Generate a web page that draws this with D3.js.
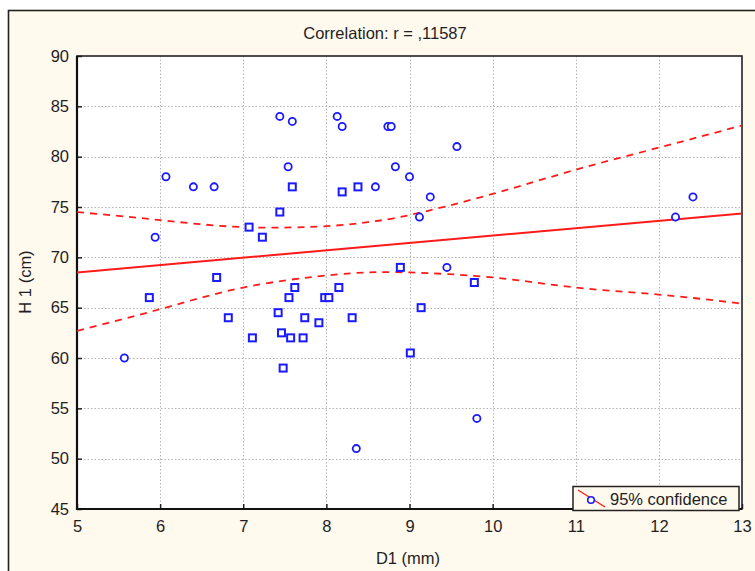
<!DOCTYPE html>
<html>
<head>
<meta charset="utf-8">
<script src="https://cdn.jsdelivr.net/npm/d3@7"></script>
<style>
  html, body { margin: 0; padding: 0; background: #ffffff; }
  svg { display: block; font-family: Arial, "Liberation Sans", sans-serif; }
</style>
</head>
<body>
<script>
// Scatter of H 1 against D1 with linear fit and 95% confidence band.
const d1Values = [
  5.57, 5.94, 6.07, 6.40, 6.65, 7.44, 7.59, 7.54, 8.13, 8.19, 8.36, 8.59,
  8.74, 8.78, 8.83, 9.00, 9.25, 9.12, 9.45, 9.81, 9.57, 12.20, 12.41,
  5.87, 6.68, 6.82, 7.07, 7.11, 7.23, 7.44, 7.42, 7.59, 7.46, 7.48, 7.55,
  7.57, 7.62, 7.74, 7.72, 7.91, 7.98, 8.03, 8.15, 8.19, 8.38, 8.31, 8.89,
  9.01, 9.14, 9.78
];
const h1Values = [
  60, 72, 78, 77, 77, 84, 83.5, 79, 84, 83, 51, 77,
  83, 83, 79, 78, 76, 74, 69, 54, 81, 74, 76,
  66, 68, 64, 73, 62, 72, 74.5, 64.5, 77, 62.5, 59, 66,
  62, 67, 64, 62, 63.5, 66, 66, 67, 76.5, 77, 64, 69,
  60.5, 65, 67.5
];
const markerShapes = [
  "o","o","o","o","o","o","o","o","o","o","o","o",
  "o","o","o","o","o","o","o","o","o","o","o",
  "s","s","s","s","s","s","s","s","s","s","s","s",
  "s","s","s","s","s","s","s","s","s","s","s","s",
  "s","s","s"
];

// Fitted line end points and confidence limits
const fitX = [5, 13];
const fitY = [68.5, 74.35];
const bandX = [5, 6, 7, 8, 8.5, 9, 10, 11, 12, 13];
const bandUpper = [74.5, 73.7, 73.0, 73.1, 73.5, 74.2, 76.3, 78.7, 80.9, 83.1];
const bandLower = [62.7, 64.85, 67.0, 68.2, 68.5, 68.5, 68.0, 67.0, 66.3, 65.4];

const xTicks = [5, 6, 7, 8, 9, 10, 11, 12, 13];
const yTicks = [45, 50, 55, 60, 65, 70, 75, 80, 85, 90];

const titleText = "Correlation: r = ,11587";
const xLabel = "D1 (mm)";
const yLabel = "H 1 (cm)";
const legendText = "95% confidence";

const W = 755, H = 571;
const plot = { left: 77, top: 56, right: 742, bottom: 509 };
const FONT = 16.5;
const INK = "#1e1e1e";

const svg = d3.select("body").append("svg").attr("width", W).attr("height", H);

// Outer panel
svg.append("rect")
  .attr("x", 8.5).attr("y", 10.5)
  .attr("width", W + 20).attr("height", H + 20)
  .attr("fill", "#fff9ee").attr("stroke", "#222").attr("stroke-width", 1.6);

const x = d3.scaleLinear().domain([5, 13]).range([plot.left, plot.right]);
const y = d3.scaleLinear().domain([45, 90]).range([plot.bottom, plot.top]);

// Plot area
svg.append("rect")
  .attr("x", plot.left).attr("y", plot.top)
  .attr("width", plot.right - plot.left).attr("height", plot.bottom - plot.top)
  .attr("fill", "#ffffff");

// Grid
const grid = svg.append("g");
grid.selectAll("line.gx").data(xTicks.slice(1, -1)).join("line")
  .attr("x1", d => Math.round(x(d)) + 0.5).attr("x2", d => Math.round(x(d)) + 0.5)
  .attr("y1", plot.top).attr("y2", plot.bottom)
  .attr("stroke", "#b4b4b4").attr("stroke-width", 1).attr("stroke-dasharray", "1.5,2");
grid.selectAll("line.gy").data(yTicks.slice(1, -1)).join("line")
  .attr("y1", d => Math.round(y(d)) + 0.5).attr("y2", d => Math.round(y(d)) + 0.5)
  .attr("x1", plot.left).attr("x2", plot.right)
  .attr("stroke", "#b4b4b4").attr("stroke-width", 1).attr("stroke-dasharray", "1.5,2");

// Axes with inward ticks
const xAxis = d3.axisBottom(x).tickValues(xTicks).tickSize(-5).tickPadding(11).tickFormat(d3.format("d"));
const yAxis = d3.axisLeft(y).tickValues(yTicks).tickSize(-5).tickPadding(8).tickFormat(d3.format("d"));

const gx = svg.append("g").attr("transform", `translate(0,${plot.bottom})`).call(xAxis);
const gy = svg.append("g").attr("transform", `translate(${plot.left},0)`).call(yAxis);
[gx, gy].forEach(g => {
  g.select(".domain").remove();
  g.selectAll(".tick line").attr("stroke", "#222").attr("stroke-width", 1.5);
  g.selectAll(".tick text").attr("fill", INK).attr("font-size", FONT)
    .attr("font-family", "Arial, 'Liberation Sans', sans-serif");
});

// Frame around plot
svg.append("rect")
  .attr("x", plot.left).attr("y", plot.top)
  .attr("width", plot.right - plot.left).attr("height", plot.bottom - plot.top)
  .attr("fill", "none").attr("stroke", "#222").attr("stroke-width", 1.6);
svg.append("line").attr("x1", plot.left).attr("x2", plot.left)
  .attr("y1", plot.top).attr("y2", plot.bottom + 1).attr("stroke", "#111").attr("stroke-width", 2.2);
svg.append("line").attr("x1", plot.left - 1).attr("x2", plot.right)
  .attr("y1", plot.bottom).attr("y2", plot.bottom).attr("stroke", "#111").attr("stroke-width", 2.2);

// Fit line and confidence band
svg.append("clipPath").attr("id", "plotClip").append("rect")
  .attr("x", plot.left).attr("y", plot.top)
  .attr("width", plot.right - plot.left).attr("height", plot.bottom - plot.top);
const lines = svg.append("g").attr("clip-path", "url(#plotClip)");

const fitData = fitX.map((v, i) => [v, fitY[i]]);
lines.append("path")
  .attr("d", d3.line().x(d => x(d[0])).y(d => y(d[1]))(fitData))
  .attr("fill", "none").attr("stroke", "#ff1a1a").attr("stroke-width", 2);

const bandLine = d3.line().x(d => x(d[0])).y(d => y(d[1])).curve(d3.curveNatural);
[bandUpper, bandLower].forEach(vals => {
  lines.append("path")
    .attr("d", bandLine(bandX.map((v, i) => [v, vals[i]])))
    .attr("fill", "none").attr("stroke", "#ff1a1a").attr("stroke-width", 1.8)
    .attr("stroke-dasharray", "7,6");
});

// Points
const pts = svg.append("g");
d1Values.forEach((xv, i) => {
  const cx = x(xv), cy = y(h1Values[i]);
  if (markerShapes[i] === "s") {
    pts.append("rect")
      .attr("x", cx - 3.5).attr("y", cy - 3.5).attr("width", 7).attr("height", 7)
      .attr("fill", "#ffffff").attr("stroke", "#1a1aff").attr("stroke-width", 2);
  } else {
    pts.append("circle")
      .attr("cx", cx).attr("cy", cy).attr("r", 3.6)
      .attr("fill", "#ffffff").attr("stroke", "#1a1aff").attr("stroke-width", 1.8);
  }
});

// Legend
const lg = svg.append("g");
lg.append("rect").attr("x", 573).attr("y", 486.5).attr("width", 166).attr("height", 24)
  .attr("fill", "#fff9ee").attr("stroke", "#222").attr("stroke-width", 1.5);
lg.append("line").attr("x1", 578).attr("y1", 490).attr("x2", 605).attr("y2", 507)
  .attr("stroke", "#ff1a1a").attr("stroke-width", 1.3);
lg.append("circle").attr("cx", 591).attr("cy", 500).attr("r", 3.3)
  .attr("fill", "#ffffff").attr("stroke", "#1a1aff").attr("stroke-width", 1.6);
lg.append("text").attr("x", 610).attr("y", 504.5).attr("font-size", FONT).attr("fill", INK)
  .text(legendText);

// Title and axis labels
svg.append("text").attr("x", 385).attr("y", 39).attr("text-anchor", "middle")
  .attr("font-size", FONT).attr("fill", INK).text(titleText);
svg.append("text").attr("x", 408).attr("y", 564).attr("text-anchor", "middle")
  .attr("font-size", FONT).attr("fill", INK).text(xLabel);
svg.append("text").attr("transform", "translate(31,282) rotate(-90)").attr("text-anchor", "middle")
  .attr("font-size", FONT).attr("fill", INK).text(yLabel);
</script>
</body>
</html>
